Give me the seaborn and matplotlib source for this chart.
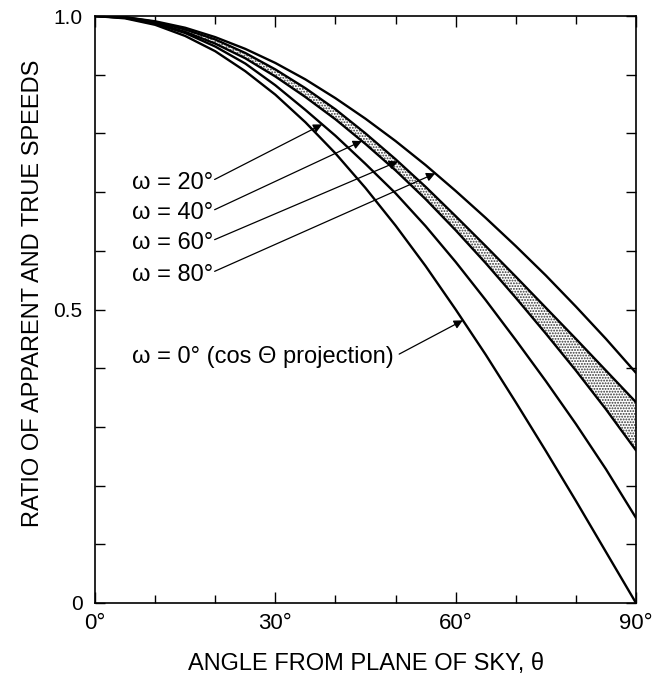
import numpy as np
import pandas as pd
import matplotlib
matplotlib.use("Agg")
import matplotlib.pyplot as plt
import seaborn as sns
from matplotlib.ticker import MultipleLocator

# Data (angle in degrees, ratio of apparent/true speed)
theta = [0, 5, 10, 15, 20, 25, 30, 35, 40, 45, 50, 55, 60, 65, 70, 75, 80, 85, 90]
ratio_w0 = [1.0, 0.996, 0.985, 0.966, 0.940, 0.906, 0.866, 0.819, 0.766, 0.707,
            0.643, 0.574, 0.500, 0.423, 0.342, 0.259, 0.174, 0.087, 0.0]
ratio_w20 = [1.0, 0.997, 0.987, 0.971, 0.948, 0.919, 0.882, 0.840, 0.796, 0.748,
             0.698, 0.642, 0.581, 0.516, 0.448, 0.378, 0.305, 0.228, 0.145]
ratio_w40 = [1.0, 0.997, 0.988, 0.973, 0.953, 0.928, 0.897, 0.862, 0.824, 0.782,
             0.737, 0.688, 0.635, 0.579, 0.520, 0.459, 0.396, 0.330, 0.260]
ratio_w60 = [1.0, 0.998, 0.990, 0.977, 0.960, 0.937, 0.909, 0.877, 0.841, 0.800,
             0.756, 0.709, 0.659, 0.608, 0.556, 0.503, 0.450, 0.396, 0.342]
ratio_w80 = [1.0, 0.998, 0.991, 0.980, 0.964, 0.944, 0.920, 0.892, 0.860, 0.825,
             0.787, 0.746, 0.702, 0.656, 0.608, 0.558, 0.505, 0.450, 0.392]

labels = ["ω = 20°", "ω = 40°", "ω = 60°", "ω = 80°"]
label_w0 = "ω = 0° (cos Θ projection)"
x_ticks = [0, 30, 60, 90]
x_ticklabels = ["0°", "30°", "60°", "90°"]
y_ticks = [0, 0.5, 1.0]
y_ticklabels = ["0", "0.5", "1.0"]

sns.set_theme(style="ticks")
plt.rcParams["font.family"] = ["Liberation Sans", "DejaVu Sans"]
plt.rcParams["hatch.linewidth"] = 0.9
plt.rcParams["hatch.color"] = "#333333"

fig = plt.figure(figsize=(6.64, 6.77), dpi=100)
ax = fig.add_axes([95 / 664, 1 - 603 / 677, 541 / 664, 587 / 677])

series = {"0": ratio_w0, "20": ratio_w20, "40": ratio_w40, "60": ratio_w60, "80": ratio_w80}
df = pd.DataFrame([(t, v, k) for k, vals in series.items() for t, v in zip(theta, vals)],
                  columns=["theta", "ratio", "omega"])

# stippled band between omega=40 and omega=60
ax.fill_between(theta, ratio_w40, ratio_w60, facecolor="white", edgecolor="#333333",
                hatch="......", linewidth=0)

sns.lineplot(data=df, x="theta", y="ratio", units="omega", estimator=None,
             color="black", linewidth=1.7, legend=False, ax=ax)

ax.set_xlim(0, 90)
ax.set_ylim(0, 1.0)
ax.set_xticks(x_ticks)
ax.set_xticklabels(x_ticklabels)
ax.set_yticks(y_ticks)
ax.set_yticklabels(y_ticklabels)
ax.xaxis.set_minor_locator(MultipleLocator(10))
ax.yaxis.set_minor_locator(MultipleLocator(0.1))
ax.tick_params(which="both", direction="in", top=True, right=True, width=1.0,
               labelsize=15, color="black", labelcolor="black")
ax.tick_params(axis="x", which="major", length=8, pad=7, labelsize=16)
ax.tick_params(axis="x", which="minor", length=6)
ax.tick_params(axis="y", which="both", length=7, pad=9)
for s in ax.spines.values():
    s.set_linewidth(1.2)
    s.set_color("black")

ax.set_xlabel("ANGLE FROM PLANE OF SKY, θ", fontsize=17, labelpad=14, color="black")
ax.set_ylabel("RATIO OF APPARENT AND TRUE SPEEDS", fontsize=17, color="black")
ax.yaxis.set_label_coords(-0.095, 0.528)

arrow = dict(arrowstyle="-|>", lw=0.9, color="black", mutation_scale=13, shrinkA=0, shrinkB=0)
text_y = [0.7155, 0.664, 0.613, 0.559]
tip_t = [37.8, 44.4, 50.4, 56.6]
curves = [ratio_w20, ratio_w40, ratio_w60, ratio_w80]
for lab, ty, tt0, cv in zip(labels, text_y, tip_t, curves):
    ax.text(6.1, ty, lab, fontsize=17, va="center", ha="left", color="black")
    ax.annotate("", xy=(tt0, np.interp(tt0, theta, cv)), xytext=(19.9, ty + 0.006),
                arrowprops=arrow)
ax.text(6.1, 0.419, label_w0, fontsize=17, va="center", ha="left", color="black")
ax.annotate("", xy=(61.2, np.interp(61.2, theta, ratio_w0)), xytext=(50.6, 0.424),
            arrowprops=arrow)

fig.savefig("out.png", dpi=100)
